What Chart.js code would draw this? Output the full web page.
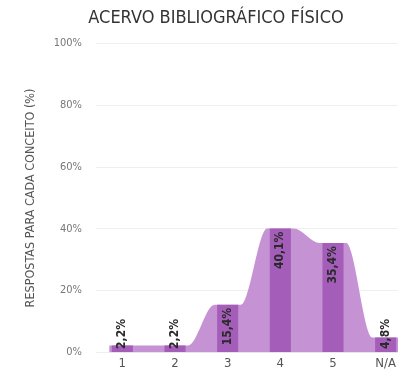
<!DOCTYPE html>
<html>
<head>
<meta charset="utf-8">
<script src="https://cdn.jsdelivr.net/npm/chart.js@4"></script>
<style>
  html, body { margin: 0; padding: 0; background: #fff; overflow: hidden; }
  #wrap { width: 432px; height: 376px; }
</style>
</head>
<body>
<div id="wrap"><canvas id="acervoChart" width="432" height="376"></canvas></div>
<script>
// data
const categories = ['1', '2', '3', '4', '5', 'N/A'];
const percentValues = [2.2, 2.2, 15.4, 40.1, 35.4, 4.8];
const yTicks = [0, 20, 40, 60, 80, 100];

const FONT = "'DejaVu Sans Condensed', 'Liberation Sans Narrow', 'Roboto', sans-serif";

// smooth stepped area behind the bars: flat top around each category
const areaPoints = [];
percentValues.forEach((v, i) => {
  areaPoints.push({ x: i - 0.25, y: v });
  areaPoints.push({ x: i + 0.25, y: v });
});

const fmt = (v) => v.toFixed(1).replace('.', ',') + '%';

// vertical labels on the bars
const barLabels = {
  id: 'barLabels',
  afterDatasetsDraw(chart) {
    const meta = chart.getDatasetMeta(0);
    const ctx = chart.ctx;
    ctx.save();
    ctx.font = 'bold 12px ' + FONT;
    ctx.fillStyle = '#2a2a2a';
    ctx.textBaseline = 'middle';
    meta.data.forEach((bar, i) => {
      const txt = fmt(percentValues[i]);
      const w = ctx.measureText(txt).width;
      const h = bar.base - bar.y;
      ctx.save();
      if (h >= w + 6) {
        ctx.translate(bar.x, bar.y + 3);
        ctx.rotate(-Math.PI / 2);
        ctx.textAlign = 'right';
      } else {
        ctx.translate(bar.x, bar.base - 3);
        ctx.rotate(-Math.PI / 2);
        ctx.textAlign = 'left';
      }
      ctx.fillText(txt, 0, 0);
      ctx.restore();
    });
    ctx.restore();
  }
};

new Chart(document.getElementById('acervoChart'), {
  data: {
    labels: categories,
    datasets: [
      {
        type: 'bar',
        data: percentValues,
        backgroundColor: '#a45db8',
        barPercentage: 0.8,
        categoryPercentage: 0.5,
        grouped: false,
        order: 0,
        xAxisID: 'x'
      },
      {
        type: 'line',
        data: areaPoints,
        xAxisID: 'xArea',
        fill: 'origin',
        backgroundColor: '#c592d3',
        borderWidth: 0,
        pointRadius: 0,
        cubicInterpolationMode: 'monotone',
        order: 1
      }
    ]
  },
  options: {
    responsive: false,
    animation: false,
    layout: { padding: { left: 20, right: 20, top: 6, bottom: 2 } },
    plugins: {
      legend: { display: false },
      tooltip: { enabled: false },
      title: {
        display: true,
        text: 'ACERVO BIBLIOGRÁFICO FÍSICO',
        color: '#333',
        font: { family: FONT, size: 18, weight: 'normal' },
        padding: { top: 2, bottom: 14 }
      }
    },
    scales: {
      x: {
        type: 'category',
        offset: true,
        grid: { display: false, drawTicks: false },
        border: { display: false },
        ticks: { color: '#555', font: { family: FONT, size: 13 }, padding: 3 }
      },
      xArea: {
        type: 'linear',
        display: false,
        min: -0.5,
        max: 5.5
      },
      y: {
        min: 0,
        max: 100,
        afterBuildTicks: (s) => { s.ticks = yTicks.map(v => ({ value: v })); },
        afterFit: (s) => { s.width = 76; },
        grid: { color: '#efefef', drawTicks: false },
        border: { display: false },
        ticks: {
          color: '#777',
          font: { family: FONT, size: 11 },
          padding: 14,
          callback: (v) => v + '%'
        },
        title: {
          display: true,
          text: 'RESPOSTAS PARA CADA CONCEITO (%)',
          color: '#555',
          font: { family: FONT, size: 12.5 },
          padding: { top: 3, bottom: 0 }
        }
      }
    }
  },
  plugins: [barLabels]
});
</script>
</body>
</html>
